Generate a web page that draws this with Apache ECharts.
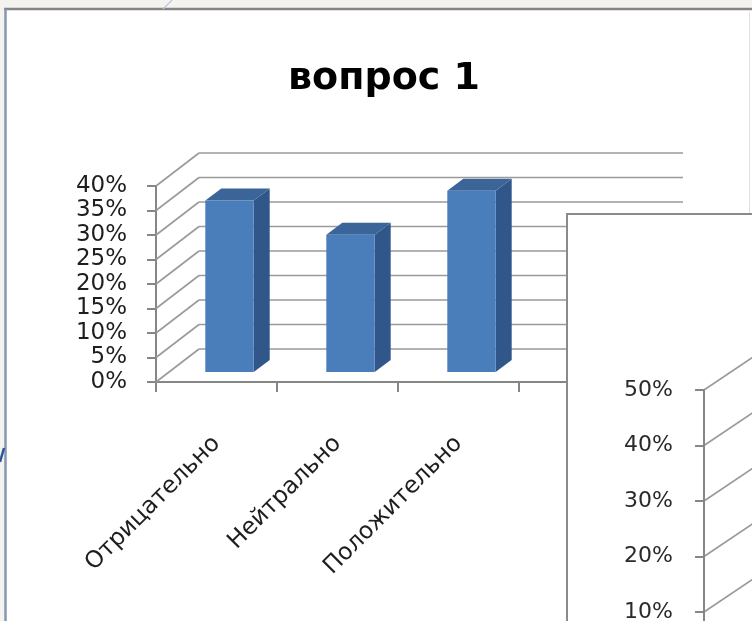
<!DOCTYPE html>
<html>
<head>
<meta charset="utf-8">
<script src="https://cdn.jsdelivr.net/npm/echarts@6/dist/echarts.min.js"></script>
<style>
  html, body { margin: 0; padding: 0; background: #f4f3ef; }
  #chart { width: 752px; height: 621px; }
</style>
</head>
<body>
<div id="chart"></div>
<script>
// Question 1: share of answers per category
const categories = ['Отрицательно', 'Нейтрально', 'Положительно', ''];
const answers = [35, 28, 37, null];
const yTicks1 = [0, 5, 10, 15, 20, 25, 30, 35, 40];

// second chart, partly covered: only its value axis shows
const yTicks2 = [0, 10, 20, 30, 40, 50];

const FONT = 'DejaVu Sans';
const GRID_COLOR = '#9a9a9a';
const AXIS_COLOR = '#868686';

// 3D look: the floor depth and where the column sits inside it
const DEPTH1 = [43, -33];
const DEPTH2 = [49, -33];
const BAR_FRONT = [13, -10];
const BAR_BACK = [29, -22];

function wallRenderer(depth, withBackLines) {
  return function (params, api) {
    const cs = params.coordSys;
    const v = api.value(0);
    const y = api.coord([0, v])[1];
    const left = cs.x;
    const right = cs.x + cs.width;
    const style = { stroke: GRID_COLOR, lineWidth: 1.6 };
    const children = [{
      type: 'line',
      shape: { x1: left, y1: y, x2: left + depth[0], y2: y + depth[1] },
      style: style
    }];
    if (withBackLines) {
      children.push({
        type: 'line',
        shape: { x1: left + depth[0], y1: y + depth[1], x2: right + depth[0], y2: y + depth[1] },
        style: style
      });
    }
    return { type: 'group', children: children };
  };
}

function columnRenderer(params, api) {
  const idx = api.value(0);
  const val = api.value(1);
  const top = api.coord([idx, val]);
  const base = api.coord([idx, 0]);
  const w = api.size([1, 0])[0] * 0.4;
  const x0 = top[0] - w / 2 + BAR_FRONT[0];
  const x1 = top[0] + w / 2 + BAR_FRONT[0];
  const yt = top[1] + BAR_FRONT[1];
  const yb = base[1] + BAR_FRONT[1];
  const ddx = BAR_BACK[0] - BAR_FRONT[0];
  const ddy = BAR_BACK[1] - BAR_FRONT[1];
  return {
    type: 'group',
    children: [
      { type: 'polygon', shape: { points: [[x1, yt], [x1 + ddx, yt + ddy], [x1 + ddx, yb + ddy], [x1, yb]] },
        style: { fill: '#30568a' } },
      { type: 'polygon', shape: { points: [[x0, yt], [x0 + ddx, yt + ddy], [x1 + ddx, yt + ddy], [x1, yt]] },
        style: { fill: '#3b6598' } },
      { type: 'rect', shape: { x: x0, y: yt, width: x1 - x0, height: yb - yt },
        style: { fill: '#4a7ebb' } }
    ]
  };
}

const chart = echarts.init(document.getElementById('chart'));
chart.setOption({
  backgroundColor: '#f4f3ef',
  animation: false,
  title: {
    text: 'вопрос 1',
    left: 379,
    top: 55,
    textAlign: 'center',
    textStyle: { fontFamily: FONT, fontWeight: 'bold', fontSize: 38, color: '#000' }
  },
  graphic: [
    { type: 'rect', z: -10, shape: { x: 6, y: 9, width: 760, height: 640 }, style: { fill: '#ffffff' } },
    { type: 'line', z: -5, shape: { x1: 4, y1: 9, x2: 752, y2: 9 }, style: { stroke: '#858585', lineWidth: 2.5 } },
    { type: 'line', z: -5, shape: { x1: 5.5, y1: 9, x2: 5.5, y2: 621 }, style: { stroke: '#8497b5', lineWidth: 2.5 } },
    { type: 'line', z: -5, shape: { x1: 749.5, y1: 12, x2: 749.5, y2: 213 }, style: { stroke: '#e2e2e2', lineWidth: 1 } },
    { type: 'line', z: -5, shape: { x1: 163, y1: 9, x2: 172, y2: 0 }, style: { stroke: '#b9c7de', lineWidth: 1.2 } },
    { type: 'line', z: -5, shape: { x1: 0, y1: 462, x2: 4, y2: 448 }, style: { stroke: '#2f5597', lineWidth: 2.5 } },
    // the second chart's frame lies over the first one
    { type: 'rect', z: 50, shape: { x: 567, y: 214, width: 200, height: 420 },
      style: { fill: '#ffffff', stroke: '#8a8a8a', lineWidth: 2 } }
  ],
  grid: [
    { left: 156, top: 186, width: 484, height: 196, outerBoundsMode: 'none' },
    { left: 704, top: 390, width: 300, height: 277.5, outerBoundsMode: 'none' }
  ],
  xAxis: [
    {
      type: 'category', gridIndex: 0, data: categories,
      axisLine: { lineStyle: { color: AXIS_COLOR, width: 2 } },
      axisTick: { show: true, length: 10, lineStyle: { color: AXIS_COLOR, width: 2 } },
      axisLabel: { rotate: 45, margin: 58, fontFamily: FONT, fontSize: 23.5, color: '#1e1e1e' }
    },
    { type: 'category', gridIndex: 1, data: [''], show: false }
  ],
  yAxis: [
    {
      type: 'value', gridIndex: 0, min: 0, max: 40, interval: 5,
      axisLine: { show: true, lineStyle: { color: AXIS_COLOR, width: 2 } },
      axisTick: { show: true, length: 9, lineStyle: { color: AXIS_COLOR, width: 2 } },
      splitLine: { show: false },
      axisLabel: { formatter: '{value}%', margin: 29, fontFamily: FONT, fontSize: 23, color: '#1e1e1e',
        lineHeight: 23, showMinLabel: true, showMaxLabel: true }
    },
    {
      type: 'value', gridIndex: 1, min: 0, max: 50, interval: 10, z: 60,
      axisLine: { show: true, lineStyle: { color: AXIS_COLOR, width: 2 } },
      axisTick: { show: true, length: 9, lineStyle: { color: AXIS_COLOR, width: 2 } },
      splitLine: { show: false },
      axisLabel: { formatter: '{value}%', margin: 31, fontFamily: FONT, fontSize: 22, color: '#2a2a2a' }
    }
  ],
  series: [
    {
      type: 'custom', xAxisIndex: 0, yAxisIndex: 0, z: 1,
      renderItem: wallRenderer(DEPTH1, true),
      data: yTicks1.map(v => [v]),
      encode: { y: 0 }
    },
    {
      type: 'custom', xAxisIndex: 0, yAxisIndex: 0, z: 3,
      renderItem: columnRenderer,
      data: answers.map((v, i) => [i, v]).filter(d => d[1] !== null),
      encode: { x: 0, y: 1 }
    },
    {
      type: 'custom', xAxisIndex: 1, yAxisIndex: 1, z: 60,
      renderItem: wallRenderer(DEPTH2, false),
      data: yTicks2.map(v => [v]),
      encode: { y: 0 }
    }
  ]
});
</script>
</body>
</html>
